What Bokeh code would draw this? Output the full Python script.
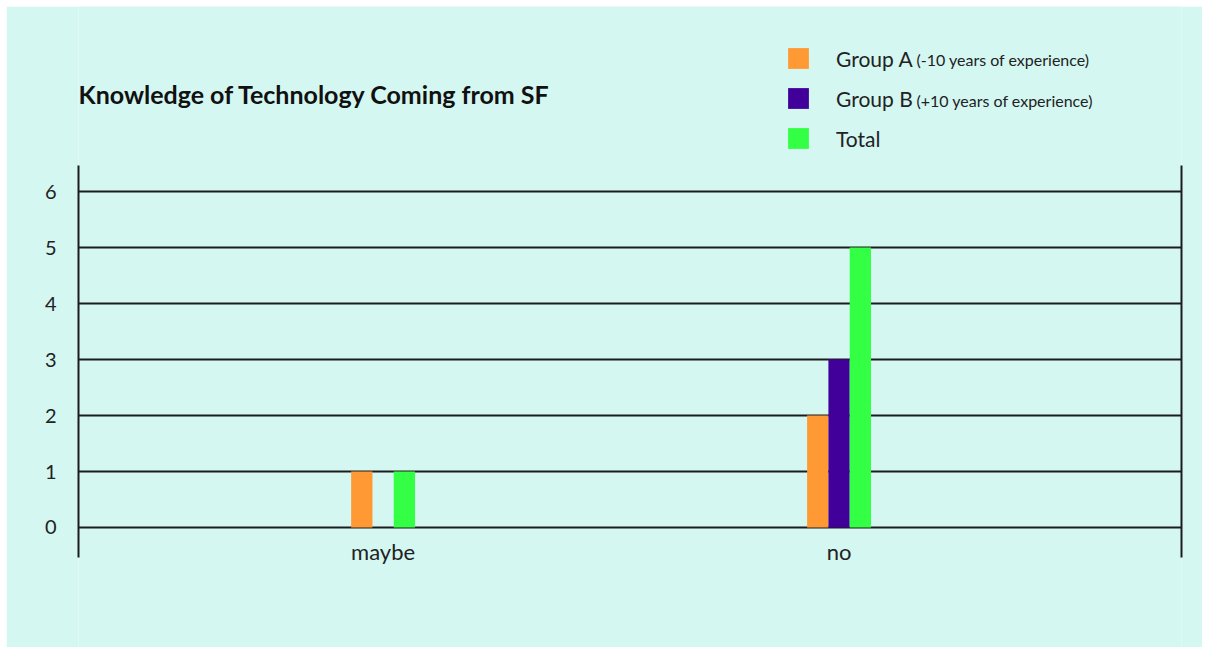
from bokeh.plotting import figure
from bokeh.models import (Range1d, FixedTicker, Legend, LegendItem, Label,
                          LinearAxis, ColumnDataSource, Spacer)
from bokeh.layouts import column, row
from bokeh.core.properties import value
from bokeh.transform import dodge
from bokeh.embed import file_html
from bokeh.resources import INLINE

# ---- data ----
categories = ["maybe", "no"]
group_a = [1, 2]
group_b = [0, 3]
total = [1, 5]
series_names = ["Group A", "Group B", "Total"]
series_notes = ["(-10 years of experience)", "(+10 years of experience)", ""]
y_ticks = [0, 1, 2, 3, 4, 5, 6]
title_text = "Knowledge of Technology Coming from SF"

# ---- style ----
BG = "#d4f7f2"
INK = "#1c1c1c"
COLORS = ["#ff9933", "#400099", "#33ff44"]
FONT = "Lato"

Y_LO, Y_HI = -0.536, 6.464     # extent of the drawn chart box

xs = list(range(len(categories)))
src = ColumnDataSource(dict(x=xs, a=group_a, b=group_b, t=total, cat=categories))

p = figure(width=1196, height=641, output_backend="svg", toolbar_location=None,
           x_range=Range1d(-0.668, 1.751), y_range=Range1d(-2.143, 9.304),
           min_border_left=72, min_border_right=21, min_border_top=0,
           min_border_bottom=0, background_fill_color=BG, border_fill_color=BG,
           outline_line_color=None)
p.title.visible = False
p.xaxis.visible = False

bw = 0.0467
r_a = p.vbar(x=dodge("x", -bw, range=p.x_range), top="a", width=bw, source=src,
             fill_color=COLORS[0], line_color=None)
r_b = p.vbar(x=dodge("x", 0, range=p.x_range), top="b", width=bw, source=src,
             fill_color=COLORS[1], line_color=None)
r_t = p.vbar(x=dodge("x", bw, range=p.x_range), top="t", width=bw, source=src,
             fill_color=COLORS[2], line_color=None)

# category labels
p.text(x="x", y=-0.43, text="cat", source=src, text_font=value(FONT),
       text_font_size="22px", text_color="#222222", text_align="center",
       text_baseline="middle")

# y axis
p.yaxis.ticker = FixedTicker(ticks=y_ticks)
p.yaxis.bounds = (Y_LO, Y_HI)
p.yaxis.axis_line_color = INK
p.yaxis.axis_line_width = 2
p.yaxis.major_tick_line_color = None
p.yaxis.minor_tick_line_color = None
p.yaxis.major_label_standoff = 16
p.yaxis.major_label_text_font = FONT
p.yaxis.major_label_text_font_size = "20px"
p.yaxis.major_label_text_color = "#222222"

# right vertical line
ra = LinearAxis(ticker=FixedTicker(ticks=[]), bounds=(Y_LO, Y_HI),
                axis_line_color=INK, axis_line_width=2,
                major_tick_line_color=None, minor_tick_line_color=None)
p.add_layout(ra, "right")

# grid
p.xgrid.grid_line_color = None
p.ygrid.ticker = FixedTicker(ticks=y_ticks)
p.ygrid.grid_line_color = INK
p.ygrid.grid_line_width = 2

# legend
items = [LegendItem(label=n, renderers=[r]) for n, r in zip(series_names, [r_a, r_b, r_t])]
legend = Legend(items=items, location=(707, 496), glyph_width=26, glyph_height=26,
                label_height=26, spacing=14, label_standoff=25, padding=0, margin=0,
                border_line_color=None, background_fill_alpha=0,
                label_text_font=FONT, label_text_font_size="21px",
                label_text_color="#222222")
p.add_layout(legend)

note_y = [588, 547]
for note, yy in zip(series_notes, note_y):
    if note:
        p.add_layout(Label(x=838, y=yy, x_units="screen", y_units="screen", text=note,
                           text_font=FONT, text_font_size="16px", text_color="#222222",
                           text_baseline="middle"))

p.add_layout(Label(x=0, y=554, x_units="screen", y_units="screen", text=title_text,
                   text_font=FONT, text_font_size="25px", text_font_style="bold",
                   text_color="#111111", text_baseline="middle"))

layout = column(Spacer(height=6), row(Spacer(width=6), p))
open("out.html", "w").write(file_html(layout, INLINE))
